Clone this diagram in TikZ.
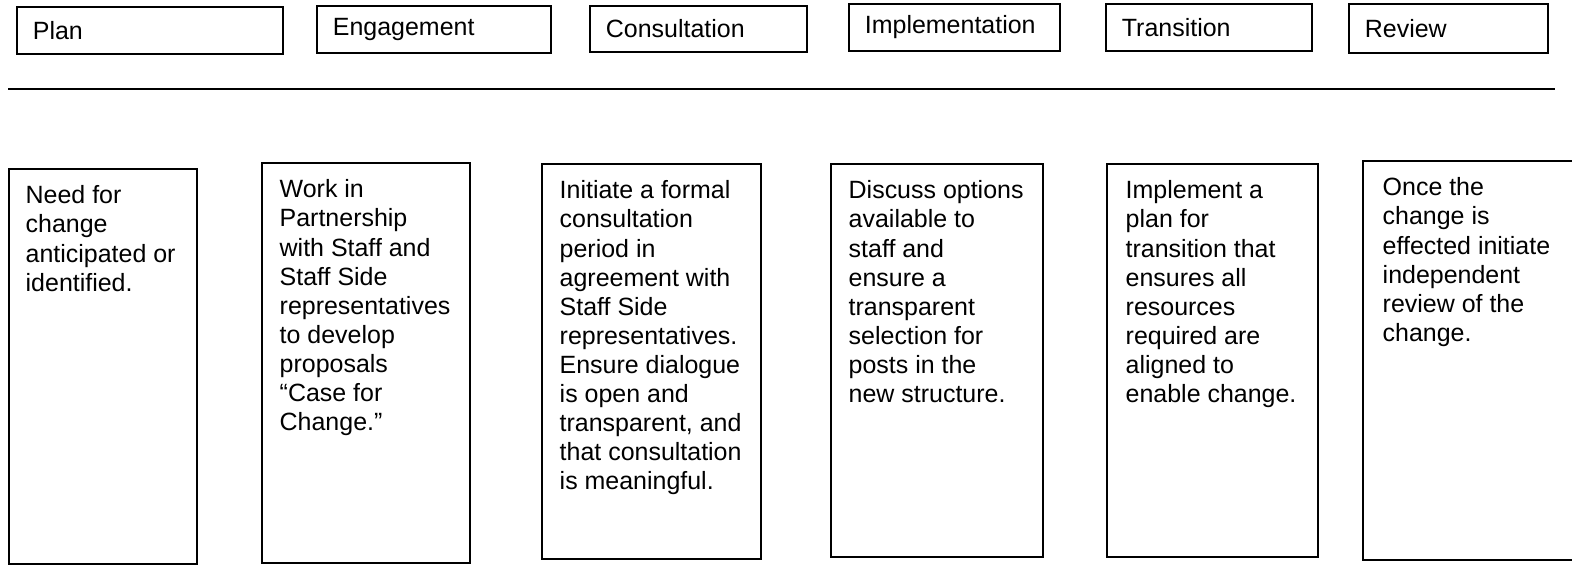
\documentclass[tikz,border=0pt]{standalone}
\usepackage{fontspec}
\setmainfont{Liberation Sans}

\tikzset{
  phase/.style={draw, line width=0.5pt, anchor=north west, inner xsep=0.16cm, inner ysep=0pt,
    align=left, font=\fontsize{7.1}{8.3}\selectfont},
  stepbox/.style={draw, line width=0.5pt},
  stepdesc/.style={anchor=north west, inner sep=0pt, align=left, font=\fontsize{7.1}{8.28}\selectfont},
}

\begin{document}
\begin{tikzpicture}[x=0.01cm, y=-0.01cm]
    \useasboundingbox (0,0) rectangle (1572,566);

    % phase headings
    \node[phase, text width=2.34cm, minimum height=0.47cm] (plan) at (16,6) {Plan};
    \node[phase, text width=2.02cm, minimum height=0.47cm] (engage) at (316,5) {Engagement};
    \node[phase, text width=1.85cm, minimum height=0.46cm] (consult) at (589,5) {Consultation};
    \node[phase, text width=1.79cm, minimum height=0.47cm] (implement) at (848,3) {Implementation};
    \node[phase, text width=1.74cm, minimum height=0.47cm] (transit) at (1105,3) {Transition};
    \node[phase, text width=1.67cm, minimum height=0.49cm] (review) at (1348,3) {Review};

    % separator rule
    \coordinate (ruleL) at (8,89);
    \coordinate (ruleR) at (1555,89);
    \draw[line width=0.35pt] (ruleL) -- (ruleR);

    % description boxes
    \draw[stepbox] (9,169) rectangle (197,564);
    \draw[stepbox] (262,163) rectangle (470,563);
    \draw[stepbox] (542,164) rectangle (761,559);
    \draw[stepbox] (831,164) rectangle (1043,557);
    \draw[stepbox] (1107,164) rectangle (1318,557);
    \draw[stepbox] (1363,161) rectangle (1590,560);

    \node[stepdesc] (planText) at (25,185)
        {Need for\\change\\anticipated or\\identified.};
    \node[stepdesc] (engageText) at (279,179)
        {Work in\\Partnership\\with Staff and\\Staff Side\\representatives\\to develop\\proposals\\``Case for\\Change.''};
    \node[stepdesc] (consultText) at (559,180)
        {Initiate a formal\\consultation\\period in\\agreement with\\Staff Side\\representatives.\\Ensure dialogue\\is open and\\transparent, and\\that consultation\\is meaningful.};
    \node[stepdesc] (implementText) at (848,180)
        {Discuss options\\available to\\staff and\\ensure a\\transparent\\selection for\\posts in the\\new structure.};
    \node[stepdesc] (transitText) at (1125,180)
        {Implement a\\plan for\\transition that\\ensures all\\resources\\required are\\aligned to\\enable change.};
    \node[stepdesc] (reviewText) at (1382,177)
        {Once the\\change is\\effected initiate\\independent\\review of the\\change.};
\end{tikzpicture}
\end{document}
